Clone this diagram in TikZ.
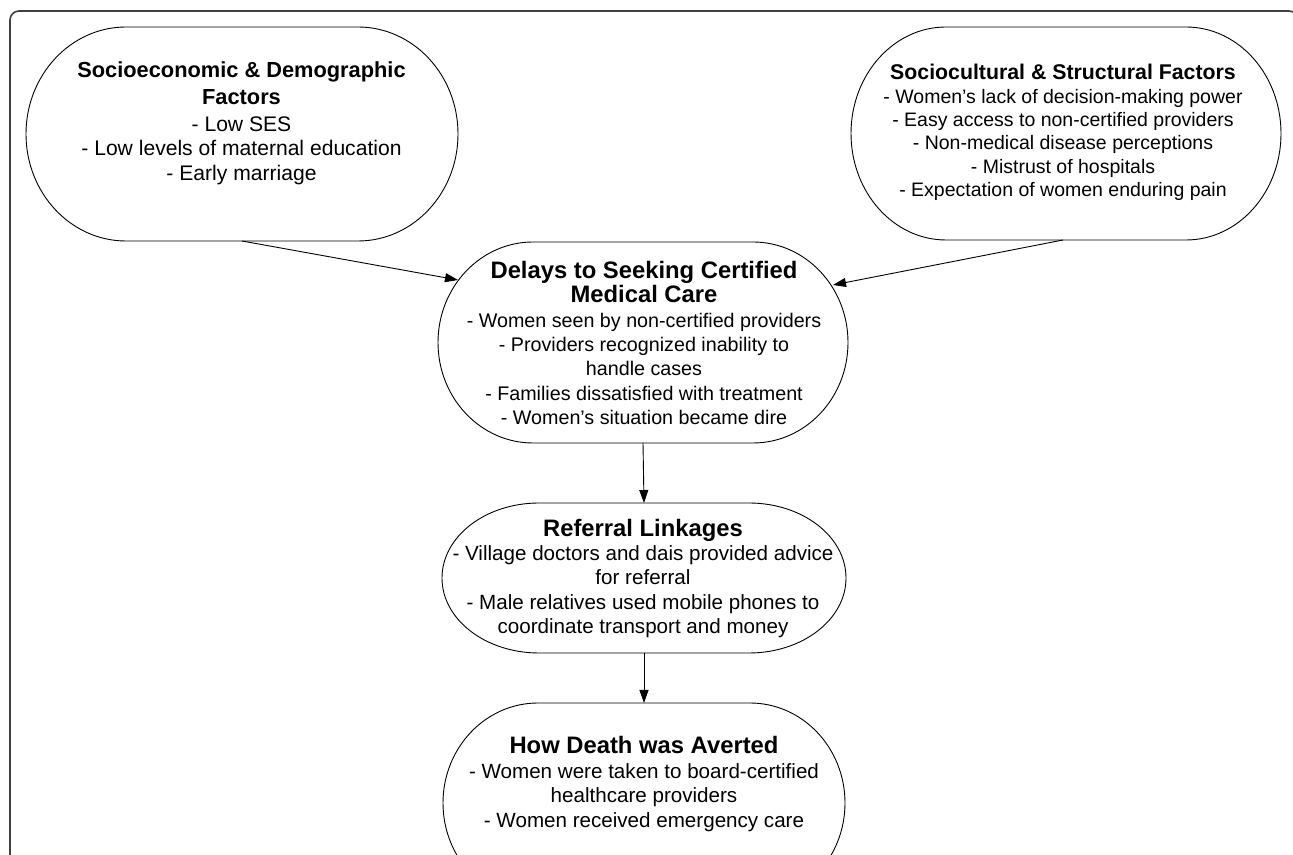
\documentclass[tikz,border=0pt]{standalone}
\usepackage{fontspec}
\setmainfont{Liberation Sans}
\usetikzlibrary{arrows.meta}
\tikzset{
  shapebox/.style={rectangle, inner sep=0pt, outer sep=0pt},
  outline/.style={draw=black, line width=0.9pt},
  frame/.style={draw=black!75, line width=1.6pt, rounded corners=9pt},
  txt/.style={align=center, inner sep=0pt, text=black},
  conn/.style={draw=black, line width=0.9pt, -{Triangle[length=13pt,width=9pt]}},
}
\newcommand\ST[2]{{\fontsize{#1}{23.5}\selectfont\bfseries #2}}
\newcommand\BT[1]{{\fontsize{23.8}{25.6}\selectfont\bfseries #1}}
% capsule outline with elliptical ends: node name, x radius, y radius
\newcommand\capsule[3]{%
  \draw[outline] ([xshift=#2]#1.north west) -- ([xshift=-#2]#1.north east)
    arc[start angle=90, end angle=-90, x radius=#2, y radius=#3]
    -- ([xshift=#2]#1.south west)
    arc[start angle=270, end angle=90, x radius=#2, y radius=#3] -- cycle;}
\begin{document}
\begin{tikzpicture}[x=1pt,y=1pt]
\useasboundingbox (0,0) rectangle (1293,854);
\clip (0,0) rectangle (1293,854);
\fill[white] (0,0) rectangle (1293,854);
\draw[frame] (10,-40) rectangle (1298,843);

% shapes
\node[shapebox, minimum width=432pt, minimum height=214pt] (socio) at (242,720) {};
\node[shapebox, minimum width=430pt, minimum height=213pt] (cult) at (1066,720.5) {};
\node[shapebox, minimum width=410pt, minimum height=201pt] (delays) at (643,511.5) {};
\node[shapebox, minimum width=404pt, minimum height=150pt] (referral) at (644,276) {};
\node[shapebox, minimum width=402pt, minimum height=200pt] (how) at (644,51) {};
\capsule{socio}{100pt}{107pt}
\capsule{cult}{95pt}{106.5pt}
\capsule{delays}{95pt}{100.5pt}
\capsule{referral}{97pt}{75pt}
\capsule{how}{95pt}{100pt}

% texts
\node[txt, font=\fontsize{21.1}{24.3}\selectfont] (socio-t) at (241.5,731) {\ST{21.8}{Socioeconomic \& Demographic}\\[2.5pt] \ST{21.8}{Factors}\\[3pt]
 - Low SES\\ - Low levels of maternal education\\ - Early marriage};
\node[txt, font=\fontsize{19.5}{23.3}\selectfont] (cult-t) at (1063,721.5) {\ST{21.3}{Sociocultural \& Structural Factors}\\
 - Women’s lack of decision-making power\\ - Easy access to non-certified providers\\
 - Non-medical disease perceptions\\ - Mistrust of hospitals\\ - Expectation of women enduring pain};
\node[txt, font=\fontsize{19.7}{24.3}\selectfont] (delays-t) at (644,511) {\BT{Delays to Seeking Certified}\\ \BT{Medical Care}\\
 - Women seen by non-certified providers\\ - Providers recognized inability to\\ handle cases\\
 - Families dissatisfied with treatment\\ - Women’s situation became dire};
\node[txt, font=\fontsize{20.6}{24.4}\selectfont] (referral-t) at (643,275.5) {\BT{Referral Linkages}\\
 - Village doctors and dais provided advice\\ for referral\\
 - Male relatives used mobile phones to\\ coordinate transport and money};
\node[txt, font=\fontsize{20.6}{24.4}\selectfont] (how-t) at (644,70) {\BT{How Death was Averted}\\
 - Women were taken to board-certified\\ healthcare providers\\
 - Women received emergency care};

% connectors
\coordinate (delays-l) at ([shift={(-185pt,62.5pt)}]delays.center);
\coordinate (delays-r) at ([shift={(190pt,57.5pt)}]delays.center);
\draw[conn] (socio.south) -- (delays-l);
\draw[conn] ([xshift=-3pt]cult.south) -- (delays-r);
\draw[conn] (delays.south) -- (referral.north);
\draw[conn] (referral.south) -- (how.north);
\end{tikzpicture}
\end{document}
